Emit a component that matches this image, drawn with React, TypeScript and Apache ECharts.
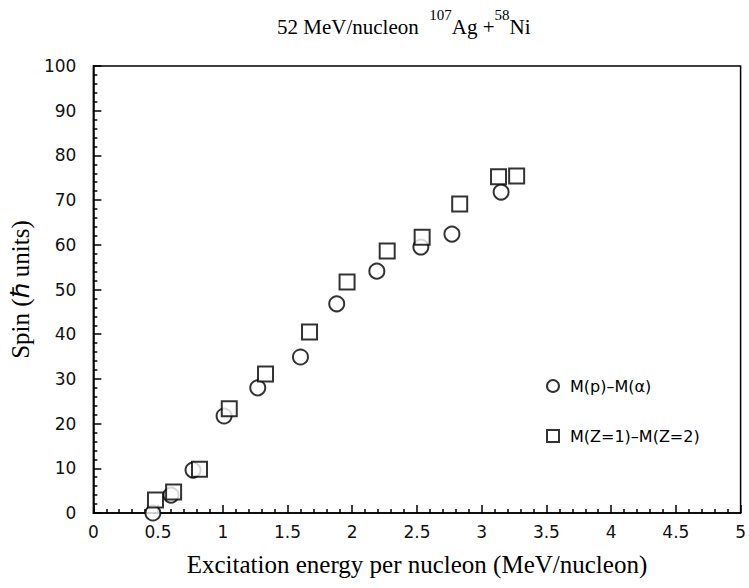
import React, { useEffect, useRef } from "react";
import * as echarts from "echarts";

const titleMain = "52 MeV/nucleon";
const xName = "Excitation energy per nucleon (MeV/nucleon)";
const yName = "Spin (ℏ units)";
const seriesNames = ["M(p)–M(α)", "M(Z=1)–M(Z=2)"];

const xCircle = [0.46, 0.6, 0.77, 1.01, 1.27, 1.6, 1.88, 2.19, 2.53, 2.77, 3.15];
const yCircle = [0.0, 4.0, 9.6, 21.7, 28.0, 34.9, 46.8, 54.1, 59.5, 62.4, 71.8];
const xSquare = [0.48, 0.62, 0.82, 1.05, 1.33, 1.67, 1.96, 2.27, 2.54, 2.83, 3.13, 3.27];
const ySquare = [2.9, 4.7, 9.8, 23.3, 31.1, 40.5, 51.7, 58.6, 61.7, 69.1, 75.2, 75.4];

const pairs = (xs: number[], ys: number[]) => xs.map((x, i) => [x, ys[i]]);

export default function App() {
  const ref = useRef<HTMLDivElement>(null);
  useEffect(() => {
    if (!ref.current) return;
    const chart = echarts.init(ref.current, undefined, { renderer: "svg" });
    const serif = "Liberation Serif";
    const sans = "DejaVu Sans";
    chart.setOption({
      animation: false,
      backgroundColor: "#fff",
      title: {
        text: `{n|${titleMain}  }{s|107}{n|Ag +}{s|58}{n|Ni}`,
        left: 272,
        top: 2,
        textStyle: {
          fontWeight: "normal",
          rich: {
            n: { fontFamily: serif, fontSize: 21, fontWeight: "normal", color: "#000", lineHeight: 30, verticalAlign: "bottom" },
            s: { fontFamily: serif, fontSize: 15, fontWeight: "normal", color: "#000", lineHeight: 15, verticalAlign: "top" },
          },
        },
      },
      grid: {
        left: 92,
        right: 8,
        top: 66,
        bottom: 75,
        show: true,
        borderColor: "#000",
        borderWidth: 1.5,
        backgroundColor: "transparent",
      },
      legend: {
        orient: "vertical",
        left: 541,
        top: 373,
        itemWidth: 12,
        itemHeight: 12,
        itemGap: 34,
        textStyle: { fontFamily: sans, fontSize: 16, color: "#000", padding: [0, 0, 0, 6] },
        data: seriesNames,
      },
      xAxis: {
        type: "value",
        min: 0,
        max: 5,
        interval: 0.5,
        name: xName,
        nameLocation: "middle",
        nameGap: 39,
        nameTextStyle: { fontFamily: serif, fontSize: 25, color: "#000" },
        axisLine: { show: true, lineStyle: { color: "#000", width: 1.5 } },
        axisTick: { show: true, inside: true, length: 8, lineStyle: { color: "#000", width: 1.5 } },
        minorTick: { show: true, splitNumber: 5, length: 4, lineStyle: { color: "#000", width: 1.5 } },
        splitLine: { show: false },
        axisLabel: { fontFamily: sans, fontSize: 17, color: "#111", margin: 10 },
      },
      yAxis: {
        type: "value",
        min: 0,
        max: 100,
        interval: 10,
        name: yName,
        nameLocation: "middle",
        nameGap: 57,
        nameRotate: 90,
        nameTextStyle: { fontFamily: serif, fontSize: 25, color: "#000" },
        axisLine: { show: true, lineStyle: { color: "#000", width: 1.5 } },
        axisTick: { show: true, inside: true, length: 8, lineStyle: { color: "#000", width: 1.5 } },
        minorTick: { show: true, splitNumber: 5, length: 4, lineStyle: { color: "#000", width: 1.5 } },
        splitLine: { show: false },
        axisLabel: { fontFamily: sans, fontSize: 17, color: "#111", margin: 17 },
      },
      series: [
        {
          name: seriesNames[0],
          type: "scatter",
          symbol: "emptyCircle",
          symbolSize: 15,
          clip: false,
          itemStyle: { color: "#000", borderColor: "#000", borderWidth: 2.5 },
          data: pairs(xCircle, yCircle),
        },
        {
          name: seriesNames[1],
          type: "scatter",
          symbol: "emptyRect",
          symbolSize: 15,
          clip: false,
          itemStyle: { color: "#000", borderColor: "#000", borderWidth: 2.5 },
          data: pairs(xSquare, ySquare),
        },
      ],
    });
    return () => chart.dispose();
  }, []);
  return (
    <div
      ref={ref}
      style={{ position: "fixed", left: 0, top: 0, width: 749, height: 588, background: "#fff" }}
    />
  );
}
